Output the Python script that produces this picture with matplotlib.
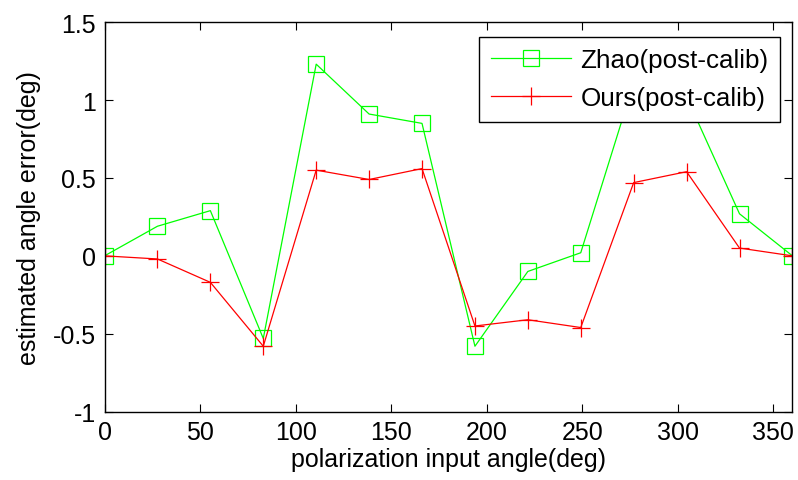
import numpy as np
import matplotlib
matplotlib.use("Agg")
import matplotlib.pyplot as plt

plt.rcParams["font.family"] = ["Liberation Sans", "DejaVu Sans"]
plt.rcParams["axes.unicode_minus"] = False

# 14 equally spaced input angles over a full turn
angles = [0, 27.69, 55.38, 83.08, 110.77, 138.46, 166.15,
          193.85, 221.54, 249.23, 276.92, 304.62, 332.31, 360]
zhao_err = [0, 0.19, 0.29, -0.53, 1.23, 0.91, 0.85,
            -0.58, -0.10, 0.02, 1.11, 1.02, 0.27, 0]
ours_err = [0, -0.02, -0.17, -0.58, 0.55, 0.49, 0.56,
            -0.45, -0.41, -0.46, 0.47, 0.54, 0.05, 0]

fig = plt.figure(figsize=(7.98, 4.81), dpi=100)
ax = fig.add_axes([0.131, 0.142, 0.862, 0.81])

ax.plot(angles, zhao_err, color="#00ff00", lw=0.9, marker="s", ms=11.5,
        mfc="none", mec="#00ff00", mew=0.9, label="Zhao(post-calib)")
ax.plot(angles, ours_err, color="#ff0000", lw=0.9, marker="+", ms=13,
        mew=0.9, label="Ours(post-calib)")

ax.set_xlim(0, 360)
ax.set_ylim(-1, 1.5)
ax.set_xticks(np.arange(0, 351, 50))
ax.set_yticks([-1, -0.5, 0, 0.5, 1, 1.5])
ax.set_yticklabels(["-1", "-0.5", "0", "0.5", "1", "1.5"])
ax.tick_params(direction="in", top=True, right=True, length=6, width=0.8,
               labelsize=18, pad=6)
for sp in ax.spines.values():
    sp.set_linewidth(1.0)
ax.set_xlabel("polarization input angle(deg)", fontsize=18, labelpad=2)
ax.set_ylabel("estimated angle error(deg)", fontsize=18, labelpad=9)

leg = ax.legend(loc="upper right", fontsize=18.7, fancybox=False, framealpha=1,
                edgecolor="black", handlelength=3.1, handletextpad=0.35,
                borderpad=0.45, labelspacing=0.55, borderaxespad=0,
                bbox_to_anchor=(0.9825, 0.963))
leg.get_frame().set_linewidth(1.0)

fig.savefig("out.png", dpi=100)
